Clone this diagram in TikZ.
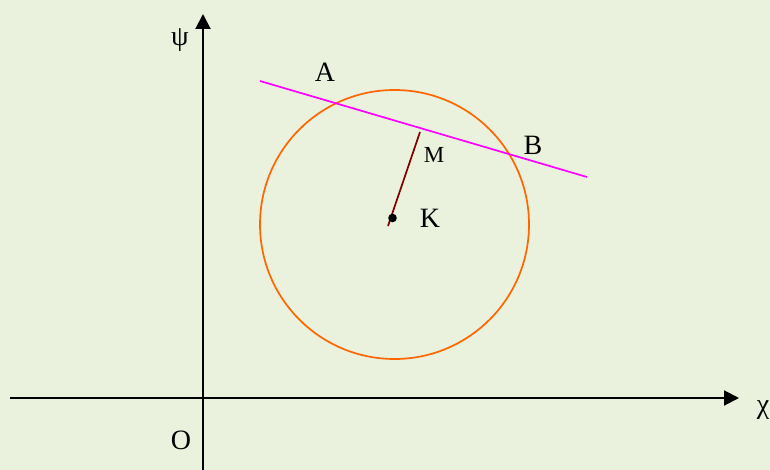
\documentclass[tikz,border=0pt]{standalone}
\usepackage{fontspec}
\setmainfont{Liberation Serif}
\usetikzlibrary{arrows.meta}
\definecolor{bg}{RGB}{234,241,221}
\definecolor{circ}{RGB}{255,102,0}
\definecolor{chord}{RGB}{255,0,255}
\definecolor{seg}{RGB}{128,0,0}
\begin{document}
\begin{tikzpicture}[x=1pt,y=-1pt,
  axis/.style={line width=2pt,-{Triangle[length=15pt,width=15pt]}},
  lbl/.style={inner sep=0pt,font=\fontsize{28}{30}\selectfont},
  smalllbl/.style={inner sep=0pt,font=\fontsize{23}{25}\selectfont}]
\fill[bg] (0,0) rectangle (770,470);
\useasboundingbox (0,0) rectangle (770,470);
% axes
\coordinate (xs) at (10,398);
\coordinate (xe) at (739,398);
\coordinate (ys) at (203,470);
\coordinate (ye) at (203,14);
\draw[axis] (xs) -- (xe);
\draw[axis] (ys) -- (ye);
% circle
\node[circle,draw=circ,line width=1.7pt,minimum size=269pt,inner sep=0pt] (circle) at (394.5,224.5) {};
% chord
\coordinate (c1) at (260,81);
\coordinate (c2) at (587,177);
\draw[chord,line width=1.7pt] (c1) -- (c2);
% segment KM
\coordinate (s1) at (388,226);
\coordinate (s2) at (420,132);
\draw[seg,line width=1.7pt] (s1) -- (s2);
\fill (392.5,218) circle (4.3pt);
% labels
\node[lbl] (psi) at (180,40) {ψ};
\node[lbl] (chi) at (763,410) {χ};
\node[lbl] (O) at (181,440) {O};
\node[lbl] (A) at (325,72) {A};
\node[lbl] (B) at (533,145) {B};
\node[lbl] (K) at (430,218) {K};
\node[smalllbl] (M) at (434,155) {M};
\end{tikzpicture}
\end{document}
